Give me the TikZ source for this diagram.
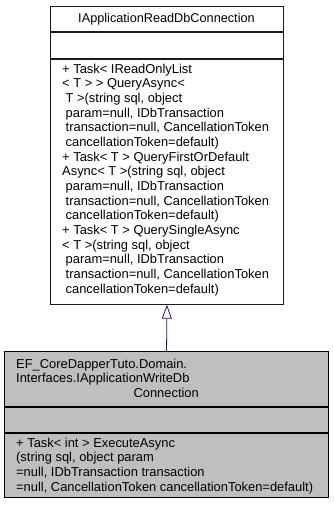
\documentclass[tikz,border=0pt]{standalone}
\usepackage{fontspec}
\setmainfont{Liberation Sans}
\usetikzlibrary{arrows.meta}
\definecolor{EdgeNavy}{HTML}{191970}
\definecolor{FocusGray}{HTML}{BFBFBF}
\definecolor{FrameColor}{HTML}{1A1A1A}
\newcommand{\ind}{\hspace*{3.5pt}}

\begin{document}
\begin{tikzpicture}[x=1pt,y=-1pt,
	classpart/.style={draw=FrameColor, line width=0.9pt, inner sep=0pt, anchor=north west},
	membertext/.style={anchor=north west, inner sep=0pt, align=left, font=\fontsize{12.9}{14.67}\selectfont}]
	\fill[white] (0,0) rectangle (333,507);
	\useasboundingbox (0,0) rectangle (333,507);

	% Base interface: IApplicationReadDbConnection
	\node[classpart, fill=white, minimum width=233pt, minimum height=25.5pt] (readtitle) at (50,5.5) {};
	\node[classpart, fill=white, minimum width=233pt, minimum height=26pt] (readattr) at (readtitle.south west) {};
	\node[classpart, fill=white, minimum width=233pt, minimum height=245pt] (readops) at (readattr.south west) {};
	\node[anchor=base, inner sep=0pt, font=\fontsize{12.7}{14.67}\selectfont] (readname) at (166.5,22) {IApplicationReadDbConnection};
	\node[membertext] (readmembers) at (62,63.6) {%
		+ Task< IReadOnlyList\\
		< T > > QueryAsync<\\\ind T >(string sql, object\\\ind param=null, IDbTransaction\\\ind transaction=null, CancellationToken\\\ind cancellationToken=default)\\
		+ Task< T > QueryFirstOrDefault\\
		Async< T >(string sql, object\\\ind param=null, IDbTransaction\\\ind transaction=null, CancellationToken\\\ind cancellationToken=default)\\
		+ Task< T > QuerySingleAsync\\
		< T >(string sql, object\\\ind param=null, IDbTransaction\\\ind transaction=null, CancellationToken\\\ind cancellationToken=default)};

	% Derived interface: IApplicationWriteDbConnection
	\node[classpart, fill=FocusGray, line width=1.1pt, draw=black, minimum width=324pt, minimum height=55pt] (writetitle) at (4,351) {};
	\node[classpart, fill=FocusGray, line width=1.1pt, draw=black, minimum width=324pt, minimum height=25pt] (writeattr) at (writetitle.south west) {};
	\node[classpart, fill=FocusGray, line width=1.1pt, draw=black, minimum width=324pt, minimum height=64pt] (writeops) at (writeattr.south west) {};
	\node[membertext, text width=300pt] (writename) at (16,358.6) {%
		EF\_CoreDapperTuto.Domain.\\
		Interfaces.IApplicationWriteDb\\
		\makebox[\linewidth][c]{Connection}};
	\node[membertext] (writemembers) at (16,437.6) {%
		+ Task< int > ExecuteAsync\\
		(string sql, object param\\
		=null, IDbTransaction transaction\\
		=null, CancellationToken cancellationToken=default)};

	% Inheritance
	\draw[-{Triangle[open, length=14pt, width=10pt]}, line width=0.8pt, draw=EdgeNavy] (writetitle.north) -- (readops.south);
\end{tikzpicture}
\end{document}
